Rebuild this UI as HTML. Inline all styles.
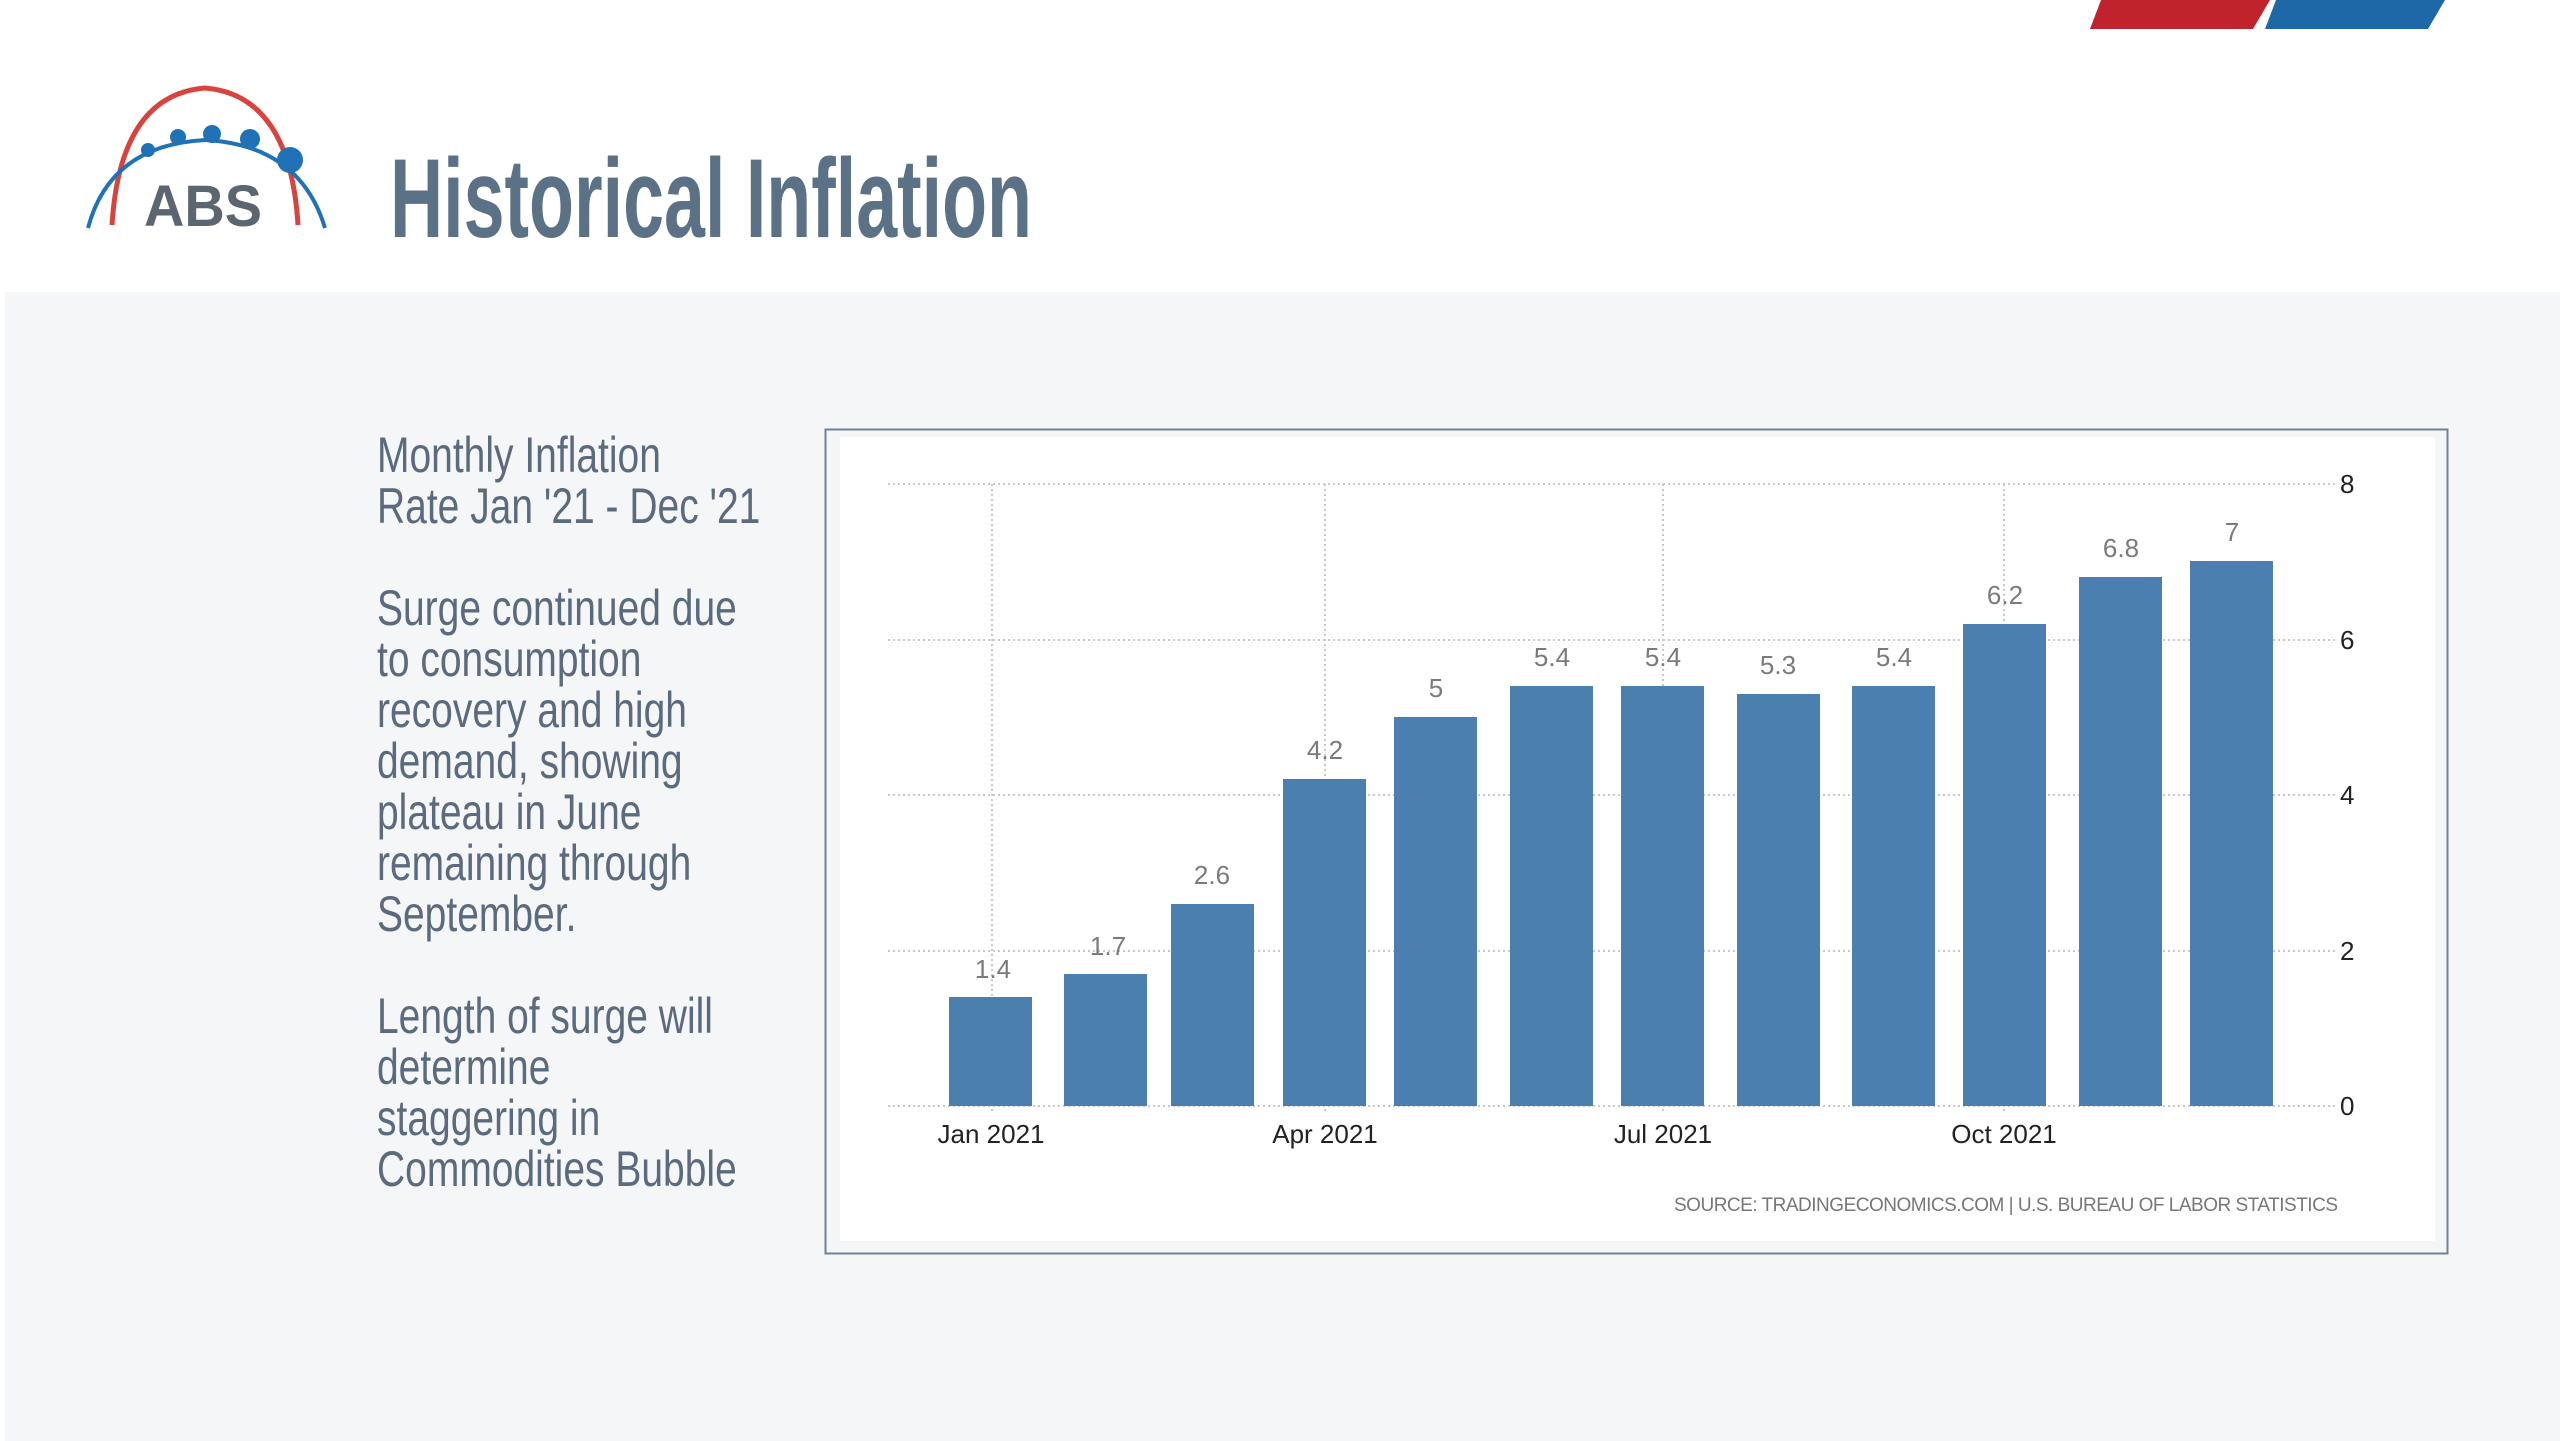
<!DOCTYPE html>
<html><head><meta charset="utf-8"><style>
html,body{margin:0;padding:0;background:#fff;}
svg{display:block;}
.t{font-family:"Liberation Sans Narrow","Liberation Sans",sans-serif;}
</style></head><body>
<svg width="2560" height="1441" viewBox="0 0 2560 1441" xmlns="http://www.w3.org/2000/svg">
<rect width="2560" height="1441" fill="#fff"/>
<rect x="5" y="292" width="2555" height="1149" fill="#f4f6f7"/>
<polygon points="2101,0 2270,0 2253,29 2090,29" fill="#c0232b"/>
<polygon points="2276,0 2445,0 2428,29 2265,29" fill="#1f68a8"/>
<!-- logo -->
<path d="M112,225 Q120,95 205,88 Q290,95 298,225" fill="none" stroke="#d8443d" stroke-width="5"/>
<path d="M88,228 Q110,145 205,140 Q300,145 325,228" fill="none" stroke="#1f72b5" stroke-width="4"/>
<circle cx="148" cy="150" r="7" fill="#1f72b5"/><circle cx="178" cy="137" r="8" fill="#1f72b5"/>
<circle cx="212" cy="134" r="9" fill="#1f72b5"/><circle cx="250" cy="139" r="10" fill="#1f72b5"/>
<circle cx="290" cy="160" r="13" fill="#1f72b5"/>
<text x="203" y="226" text-anchor="middle" font-family="Liberation Sans,sans-serif" font-weight="bold" font-size="58" fill="#5b6670" textLength="118" lengthAdjust="spacingAndGlyphs">ABS</text>
<text class="t" x="390" y="237" font-weight="bold" font-size="112" fill="#5b7186" textLength="642" lengthAdjust="spacingAndGlyphs">Historical Inflation</text>
<g class="t" font-size="50" fill="#5b6b7d" transform="translate(377,0) scale(0.78,1) translate(-377,0)">
<text x="377" y="472">Monthly Inflation</text>
<text x="377" y="523">Rate Jan '21 - Dec '21</text>
<text x="377" y="625">Surge continued due</text>
<text x="377" y="676">to consumption</text>
<text x="377" y="727">recovery and high</text>
<text x="377" y="778">demand, showing</text>
<text x="377" y="829">plateau in June</text>
<text x="377" y="880">remaining through</text>
<text x="377" y="931">September.</text>
<text x="377" y="1033">Length of surge will</text>
<text x="377" y="1084">determine</text>
<text x="377" y="1135">staggering in</text>
<text x="377" y="1186">Commodities Bubble</text>
</g>
<!-- chart box -->
<rect x="825.5" y="429.5" width="1622" height="824" fill="#f3f5f7" stroke="#6f8297" stroke-width="2"/>
<rect x="840" y="437" width="1595" height="804" fill="#fff"/>
<g stroke="#c8c8c8" stroke-width="2" stroke-dasharray="2,3">
<line x1="888" y1="484" x2="2335" y2="484"/>
<line x1="888" y1="640" x2="2335" y2="640"/>
<line x1="888" y1="795" x2="2335" y2="795"/>
<line x1="888" y1="951" x2="2335" y2="951"/>
<line x1="888" y1="1106" x2="2335" y2="1106"/>
<line x1="992" y1="484" x2="992" y2="1112"/>
<line x1="1325" y1="484" x2="1325" y2="1112"/>
<line x1="1663" y1="484" x2="1663" y2="1112"/>
<line x1="2004" y1="484" x2="2004" y2="1112"/>
</g>
<g fill="#4a7fb0">
<rect x="949" y="997" width="83" height="109"/>
<rect x="1064" y="974" width="83" height="132"/>
<rect x="1171" y="904" width="83" height="202"/>
<rect x="1283" y="779" width="83" height="327"/>
<rect x="1394" y="717" width="83" height="389"/>
<rect x="1510" y="686" width="83" height="420"/>
<rect x="1621" y="686" width="83" height="420"/>
<rect x="1737" y="694" width="83" height="412"/>
<rect x="1852" y="686" width="83" height="420"/>
<rect x="1963" y="624" width="83" height="482"/>
<rect x="2079" y="577" width="83" height="529"/>
<rect x="2190" y="561" width="83" height="545"/>
</g>
<g font-family="Liberation Sans,sans-serif" font-size="26" fill="#7a7a7a" text-anchor="middle">
<text x="993" y="978">1.4</text><text x="1108" y="955">1.7</text><text x="1212" y="884">2.6</text>
<text x="1325" y="759">4.2</text><text x="1436" y="697">5</text><text x="1552" y="666">5.4</text>
<text x="1663" y="666">5.4</text><text x="1778" y="674">5.3</text><text x="1894" y="666">5.4</text>
<text x="2005" y="604">6.2</text><text x="2121" y="557">6.8</text><text x="2232" y="541">7</text>
</g>
<g font-family="Liberation Sans,sans-serif" font-size="26" fill="#222">
<text x="2340" y="493">8</text><text x="2340" y="649">6</text><text x="2340" y="804">4</text>
<text x="2340" y="960">2</text><text x="2340" y="1115">0</text>
<g text-anchor="middle"><text x="991" y="1143">Jan 2021</text><text x="1325" y="1143">Apr 2021</text>
<text x="1663" y="1143">Jul 2021</text><text x="2004" y="1143">Oct 2021</text></g>
</g>
<text x="2338" y="1211" text-anchor="end" font-family="Liberation Sans Narrow,Liberation Sans,sans-serif" font-size="19" fill="#777" textLength="664" lengthAdjust="spacing">SOURCE:  TRADINGECONOMICS.COM  |  U.S.  BUREAU  OF  LABOR  STATISTICS</text>
</svg>
</body></html>
